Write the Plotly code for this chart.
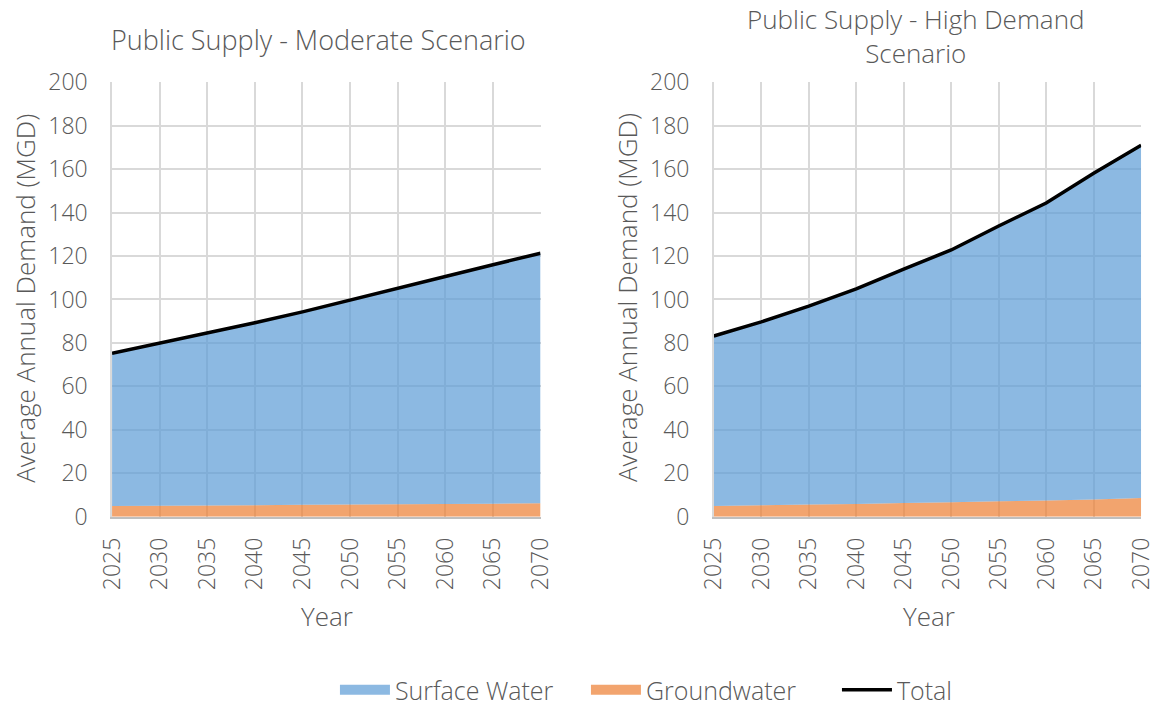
import plotly.graph_objects as go
from plotly.subplots import make_subplots

years = [2025, 2030, 2035, 2040, 2045, 2050, 2055, 2060, 2065, 2070]

# Moderate scenario (MGD)
mod_ground = [5.0, 5.1, 5.2, 5.3, 5.5, 5.7, 5.8, 5.9, 6.0, 6.2]
mod_total = [75.2, 79.9, 84.4, 89.3, 94.3, 99.6, 105.2, 110.6, 116.0, 121.3]

# High demand scenario (MGD)
high_ground = [5.0, 5.3, 5.6, 5.9, 6.3, 6.7, 7.1, 7.5, 8.0, 8.6]
high_total = [83.2, 89.7, 96.9, 104.9, 114.0, 122.8, 133.8, 144.4, 158.1, 171.0]

mod_surface = [t - g for t, g in zip(mod_total, mod_ground)]
high_surface = [t - g for t, g in zip(high_total, high_ground)]

titles = ["Public Supply - Moderate Scenario", "Public Supply - High Demand<br>Scenario"]
y_title = "Average Annual Demand (MGD)"
x_title = "Year"

BLUE = "rgba(91,155,213,0.7)"
ORANGE = "rgba(237,125,49,0.7)"
TEXT = "#595959"
GRID = "#d9d9d9"
FONT = "Open Sans"
W = 300

fig = make_subplots(rows=1, cols=2)

for col, (ground, surface, total) in enumerate(
    [(mod_ground, mod_surface, mod_total), (high_ground, high_surface, high_total)], start=1
):
    fig.add_trace(go.Scatter(
        x=years, y=ground, name="Groundwater", stackgroup=f"s{col}",
        mode="none", fillcolor=ORANGE, showlegend=False,
    ), row=1, col=col)
    fig.add_trace(go.Scatter(
        x=years, y=surface, name="Surface Water", stackgroup=f"s{col}",
        mode="none", fillcolor=BLUE, showlegend=False,
    ), row=1, col=col)
    fig.add_trace(go.Scatter(
        x=years, y=total, name="Total", mode="lines",
        line=dict(color="black", width=3.5), showlegend=False,
    ), row=1, col=col)

# Legend entries with block-style swatches for the area series
for name, color, width in [("Surface Water", BLUE, 14), ("Groundwater", ORANGE, 14), ("Total", "black", 3.5)]:
    fig.add_trace(go.Scatter(
        x=[None], y=[None], name=name, mode="lines",
        line=dict(color=color, width=width), showlegend=True,
    ), row=1, col=1)

axis_common = dict(
    showgrid=True, gridcolor=GRID, gridwidth=1.5,
    tickfont=dict(family=FONT, size=23, color=TEXT, weight=W),
    zeroline=False, ticks="", automargin=False, ticklabeloverflow="allow",
)

fig.update_xaxes(
    range=[2025, 2070], tickmode="array", tickvals=years, tickangle=-90,
    showline=True, linecolor="#bfbfbf", linewidth=1.5,
    ticklabelstandoff=10, **axis_common,
)
fig.update_yaxes(
    range=[0, 200], dtick=20,
    showline=True, linecolor=GRID, linewidth=1.5,
    ticklabelstandoff=18, **axis_common,
)

ann = []
title_font = dict(family=FONT, size=26, color=TEXT, weight=W)
label_font = dict(family=FONT, size=26, color=TEXT, weight=W)
ann.append(dict(text=titles[0], x=0.276, y=0.944, showarrow=False, font=dict(title_font, size=27)))
ann.append(dict(text=titles[1], x=0.793, y=0.9495, showarrow=False, font=title_font))
for xc, xt in [(0.0215, 0.283), (0.543, 0.804)]:
    ann.append(dict(text=y_title, x=xc, y=0.578, textangle=-90, showarrow=False, font=label_font))
    ann.append(dict(text=x_title, x=xt, y=0.127, showarrow=False, font=label_font))
for a in ann:
    a.update(xref="paper", yref="paper", xanchor="center", yanchor="middle")

fig.update_layout(
    width=1155, height=713,
    margin=dict(l=0, r=0, t=0, b=0),
    paper_bgcolor="white", plot_bgcolor="white",
    xaxis=dict(domain=[0.097, 0.468]),
    xaxis2=dict(domain=[0.618, 0.988]),
    yaxis=dict(domain=[0.268, 0.8836]),
    yaxis2=dict(domain=[0.268, 0.8836]),
    legend=dict(
        orientation="h", x=0.29, xanchor="left", y=0.022, yanchor="middle",
        font=dict(family=FONT, size=25, color=TEXT, weight=W), traceorder="normal",
        itemwidth=50, entrywidth=186,
    ),
    annotations=ann,
)

fig.write_html("out.html")
